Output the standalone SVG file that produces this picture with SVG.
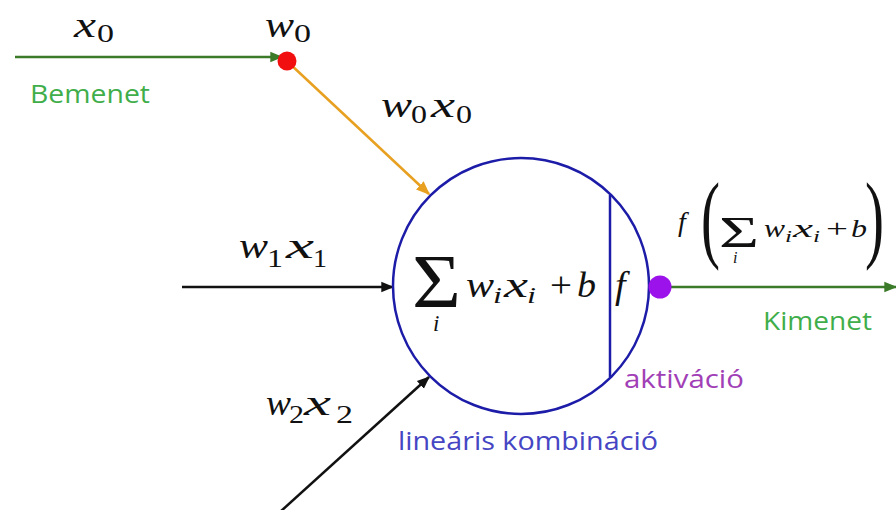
<svg xmlns="http://www.w3.org/2000/svg" width="896" height="510" viewBox="0 0 896 510">
<style>
.m{font-family:"Liberation Serif","DejaVu Serif",serif;font-style:italic;fill:#111}
.n{font-family:"Liberation Serif","DejaVu Serif",serif;font-style:normal;fill:#111}
.lbl{font-family:"Open Sans","Noto Sans",sans-serif;font-size:26px}
</style>
<defs>
<marker id="ao" viewBox="0 0 10 10" refX="9" refY="5" markerWidth="14" markerHeight="14" orient="auto" markerUnits="userSpaceOnUse"><path d="M0,1 L10,5 L0,9 z" fill="#e8a020"/></marker>
<marker id="ak" viewBox="0 0 10 10" refX="9" refY="5" markerWidth="13" markerHeight="13" orient="auto" markerUnits="userSpaceOnUse"><path d="M0,1 L10,5 L0,9 z" fill="#111"/></marker>
<marker id="agr" viewBox="0 0 10 10" refX="9" refY="5" markerWidth="13" markerHeight="13" orient="auto" markerUnits="userSpaceOnUse"><path d="M0,1 L10,5 L0,9 z" fill="#3a7a28"/></marker>
</defs>
<rect width="896" height="510" fill="#fff"/>
<g id="connectors">
<line x1="15" y1="57" x2="282" y2="57" stroke="#3a7a28" stroke-width="2.5" marker-end="url(#agr)"/>
<line x1="289" y1="63" x2="429" y2="194" stroke="#e8a020" stroke-width="2.5" marker-end="url(#ao)"/>
<line x1="182" y1="287" x2="393" y2="287" stroke="#111" stroke-width="2.5" marker-end="url(#ak)"/>
<line x1="280" y1="512" x2="429" y2="377" stroke="#111" stroke-width="2.5" marker-end="url(#ak)"/>
<line x1="668" y1="287" x2="896" y2="287" stroke="#3a7a28" stroke-width="2.5" marker-end="url(#agr)"/>
</g>
<g id="input0">
<text class="m" x="74" y="37" font-size="36" textLength="22" lengthAdjust="spacingAndGlyphs">x</text>
<text class="n" x="97" y="42" font-size="26" textLength="17" lengthAdjust="spacingAndGlyphs">0</text>
<text class="lbl" x="30" y="103" fill="#3fae4a" textLength="120" lengthAdjust="spacingAndGlyphs">Bemenet</text>
</g>
<g id="weight0">
<circle cx="287" cy="61" r="9.5" fill="#f20f0f"/>
<text class="m" x="265" y="37" font-size="36" textLength="29" lengthAdjust="spacingAndGlyphs">w</text>
<text class="n" x="294" y="42" font-size="26" textLength="17" lengthAdjust="spacingAndGlyphs">0</text>
<text class="m" x="381" y="117" font-size="36" textLength="31" lengthAdjust="spacingAndGlyphs">w</text>
<text class="n" x="411" y="123" font-size="26" textLength="16" lengthAdjust="spacingAndGlyphs">0</text>
<text class="m" x="431" y="117" font-size="36" textLength="24" lengthAdjust="spacingAndGlyphs">x</text>
<text class="n" x="456" y="123" font-size="26" textLength="16" lengthAdjust="spacingAndGlyphs">0</text>
</g>
<g id="input1">
<text class="m" x="239" y="258" font-size="36" textLength="29" lengthAdjust="spacingAndGlyphs">w</text>
<text class="n" x="267" y="267" font-size="26" textLength="16" lengthAdjust="spacingAndGlyphs">1</text>
<text class="m" x="286" y="258" font-size="36" textLength="28" lengthAdjust="spacingAndGlyphs">x</text>
<text class="n" x="313" y="267" font-size="26" textLength="14" lengthAdjust="spacingAndGlyphs">1</text>
</g>
<g id="input2">
<text class="m" x="266" y="415" font-size="36" textLength="25" lengthAdjust="spacingAndGlyphs">w</text>
<text class="n" x="289" y="423" font-size="26" textLength="15" lengthAdjust="spacingAndGlyphs">2</text>
<text class="m" x="304" y="415" font-size="36" textLength="27" lengthAdjust="spacingAndGlyphs">x</text>
<text class="n" x="336" y="423" font-size="26" textLength="17" lengthAdjust="spacingAndGlyphs">2</text>
</g>
<g id="neuron">
<circle cx="521" cy="286" r="128" fill="none" stroke="#1c1ca8" stroke-width="2.5"/>
<line x1="610" y1="195" x2="610" y2="377" stroke="#1c1ca8" stroke-width="2.5"/>
<text class="n" x="412" y="307" font-size="77" textLength="49" lengthAdjust="spacingAndGlyphs">Σ</text>
<text class="m" x="433" y="331" font-size="23">i</text>
<text class="m" x="466" y="297" font-size="36" textLength="28" lengthAdjust="spacingAndGlyphs">w</text>
<text class="m" x="493" y="303" font-size="24" textLength="9" lengthAdjust="spacingAndGlyphs">i</text>
<text class="m" x="504" y="297" font-size="36" textLength="24" lengthAdjust="spacingAndGlyphs">x</text>
<text class="m" x="527" y="303" font-size="24" textLength="9" lengthAdjust="spacingAndGlyphs">i</text>
<text class="n" x="550" y="297" font-size="36" textLength="22" lengthAdjust="spacingAndGlyphs">+</text>
<text class="m" x="577" y="297" font-size="36" textLength="19" lengthAdjust="spacingAndGlyphs">b</text>
<text class="m" x="615" y="298" font-size="38">f</text>
<text class="lbl" x="398" y="450" fill="#4646c4" textLength="260" lengthAdjust="spacingAndGlyphs">lineáris kombináció</text>
</g>
<g id="activation">
<circle cx="660" cy="287" r="11.5" fill="#9b12ea"/>
<text class="lbl" x="624" y="388" fill="#a140b6" textLength="120" lengthAdjust="spacingAndGlyphs">aktiváció</text>
</g>
<g id="output">
<text class="m" x="678" y="231" font-size="28">f</text>
<text class="n" x="701" y="250" font-size="98" textLength="19" lengthAdjust="spacingAndGlyphs">(</text>
<text class="n" x="719" y="247" font-size="45" textLength="40" lengthAdjust="spacingAndGlyphs">Σ</text>
<text class="m" x="733" y="263" font-size="16">i</text>
<text class="m" x="764" y="237" font-size="26" textLength="21" lengthAdjust="spacingAndGlyphs">w</text>
<text class="m" x="785" y="242" font-size="17" textLength="7" lengthAdjust="spacingAndGlyphs">i</text>
<text class="m" x="793" y="237" font-size="26" textLength="20" lengthAdjust="spacingAndGlyphs">x</text>
<text class="m" x="813" y="242" font-size="17" textLength="7" lengthAdjust="spacingAndGlyphs">i</text>
<text class="n" x="826" y="237" font-size="26" textLength="22" lengthAdjust="spacingAndGlyphs">+</text>
<text class="m" x="851" y="237" font-size="26" textLength="16" lengthAdjust="spacingAndGlyphs">b</text>
<text class="n" x="865" y="250" font-size="98" textLength="19" lengthAdjust="spacingAndGlyphs">)</text>
<text class="lbl" x="763" y="330" fill="#3fae4a" textLength="109" lengthAdjust="spacingAndGlyphs">Kimenet</text>
</g>
</svg>
